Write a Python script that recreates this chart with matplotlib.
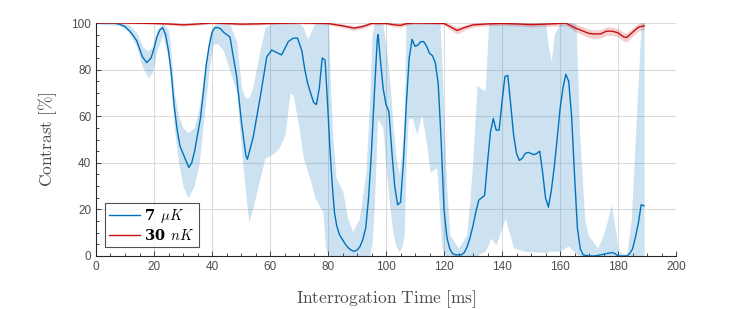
import matplotlib
matplotlib.use('Agg')
import matplotlib.pyplot as plt
from matplotlib.ticker import MultipleLocator

plt.rcParams['mathtext.fontset'] = 'custom'
plt.rcParams['mathtext.rm'] = 'cmr10'
plt.rcParams['mathtext.it'] = 'cmmi10'
plt.rcParams['mathtext.bf'] = 'DejaVu Serif:bold'
plt.rcParams['mathtext.fallback'] = 'cm'

# 7 uK mean contrast
hot_t = [0, 6, 8, 10, 12, 14, 15, 16, 17.5, 19, 20, 21, 22, 23, 24, 25, 26, 27, 28, 29,
         30, 31, 32, 33, 34, 35, 36, 37, 38, 39, 40, 41, 42, 43, 44, 46.2, 48.5, 50.2, 51.7, 52.2,
         54.2, 56.6, 58.9, 60.6, 62, 64, 66.3, 68, 69.5, 71, 72, 73, 74, 75, 76, 77, 78, 79,
         80, 80.7, 81.5, 82.2, 83, 84, 85, 86, 87, 88, 89, 90, 91, 92, 93, 94, 95, 96, 97,
         97.3, 98, 99, 100, 101, 102, 103, 104, 105, 106, 107, 108, 109, 110, 111, 112, 113,
         114, 115, 116, 117, 118, 119, 120, 121, 122, 123, 124, 126, 127, 128, 129, 130, 131,
         132, 133, 134, 135, 136, 137, 138, 139, 140, 141, 142, 143, 144, 145, 146, 147, 148,
         149, 150, 151, 152, 153, 154, 155, 156, 157, 158, 159, 160, 161, 162, 163, 164, 165,
         166, 167, 168, 170, 172, 174, 176, 178, 179, 180, 183, 184, 185, 186, 187, 188, 189]
hot_c = [100, 100, 99.5, 98.5, 96, 92.5, 89, 85.5, 83, 85, 89, 94, 97, 98, 95, 88, 78, 64, 54, 47,
         44, 41, 38, 40, 45, 52, 59, 70, 82, 90, 96, 98, 98, 97.5, 96, 94, 77, 57, 43, 41.5,
         51, 68, 85.5, 88.4, 87.5, 86.3, 92, 93.5, 93.5, 88, 80, 74, 70, 66, 65, 72, 85, 84,
         62, 45, 30, 19, 13, 9, 7, 5, 3.5, 2.5, 2, 2.5, 4, 7, 12, 25, 45, 70, 93,
         95, 85, 72, 65, 62, 45, 30, 22, 23, 40, 65, 85, 93, 90, 90.5, 92, 92,
         90, 87, 86, 83, 74, 50, 20, 8, 3, 1, 0.5, 0.5, 1.5, 4, 8, 13, 19,
         24, 25, 26, 40, 53, 59, 54, 54, 66, 77, 77.5, 65, 52, 44, 41, 42, 44,
         44.5, 44, 43.5, 44, 45, 36, 25, 21, 28, 38, 50, 63, 72, 78, 75, 60, 35,
         12, 3, 0.5, 0, 0, 0.5, 1, 1.5, 1, 0, 0, 1, 3, 8, 14, 22, 21.5]

# 7 uK spread
hot_band_t = [0, 8, 11, 14, 16, 18, 19.5, 21, 23, 25, 25.7, 27, 28.5, 30, 31.7, 33.8, 35.5, 37.2,
              39, 40.5, 42, 44, 46, 48.5, 50.2, 51.5, 52.7, 54, 56, 58.3, 60.6, 63, 65.2, 66.9,
              68, 70, 71.5, 73, 74, 75.5, 77.2, 78.2, 79.2, 80.2, 80.8, 81.6, 82.8, 85.1, 86.8,
              88.5, 90.8, 93.1, 94.3, 95.2, 96, 97.1, 98.9, 100.2, 101.4, 102.5, 103.5, 104.6,
              105.5, 106.3, 106.9, 107.7, 109.2, 110.6, 112.3, 114, 115.2, 117.5, 118.6, 119.2,
              119.8, 120.9, 122, 125, 127.8, 129, 130.1, 131.4, 132.5, 134.2, 135.4, 136, 138,
              141.1, 144, 148, 155, 156, 157, 158, 160, 162.8, 165.5, 166.8, 168.5, 169.7, 173,
              175.4, 177.7, 179.4, 180, 183, 184.6, 186.3, 188, 189]
hot_lo = [99.5, 99, 96.5, 90, 81, 76.5, 79, 88, 95, 85, 75, 55, 40, 30, 25, 30, 39, 59,
          80, 91, 91, 88, 80, 70, 45, 28, 14.5, 20, 30.6, 42, 43.5, 46, 52, 70,
          69, 55, 42, 36, 32, 25, 21, 19, 3, 0, 0, 0, 0, 0, 0,
          0, 0, 0, 0, 5, 22, 59, 55, 35, 20, 9, 4, 2,
          4, 9, 40, 59, 59, 52, 60.6, 48, 36, 38, 16, 5,
          1, 0, 0, 0, 0, 0, 0, 0, 1, 2, 5, 7.7, 4.9,
          16.3, 3.4, 2, 1.5, 2, 2, 2, 2, 4.3, 1, 0, 0, 0, 0,
          0, 0, 0, 0, 0, 0, 0, 0, 0]
hot_hi = [100, 100, 99.5, 96, 90, 88, 90, 97, 100, 97, 90, 70, 60, 55, 53, 55, 63, 78,
          94, 99, 100, 100, 100, 92, 72, 68, 68, 72, 85, 98, 100, 100, 100, 100,
          100, 100, 98, 93, 96, 100, 100, 100, 100, 100, 75, 52, 33.5, 27.8, 16,
          10.6, 16, 36, 66, 95, 100, 100, 100, 88, 73.5, 55, 42, 35,
          45, 59, 100, 100, 100, 100, 100, 100, 100, 100, 100, 85,
          66, 30.6, 9, 3.4, 9, 25, 45, 73.5, 72, 71, 100, 100, 100,
          100, 100, 100, 100, 90, 83.5, 95, 100, 100, 100, 52, 16, 9, 3.4,
          10.6, 22, 9, 2, 0.5, 16, 59, 100, 100]

# 30 nK mean contrast and spread
cold_t = [0, 10, 20, 25, 30, 33, 40, 45, 50, 55, 60, 70, 80, 85, 89, 92, 95, 100, 103, 105,
          107, 110, 120, 122, 124.5, 127, 130, 135, 140, 145, 150, 155, 160, 162, 165, 168,
          170, 172, 174, 176, 178, 180, 182, 183, 185, 187, 189]
cold_c = [100, 100, 99.8, 99.6, 99.2, 99.4, 100, 99.8, 99.5, 99.6, 99.8, 100, 99.8, 98.8, 97.8,
          98.5, 99.8, 99.8, 99.2, 99, 99.7, 100, 99.8, 98.5, 96.8, 98, 99.2, 99.6, 99.8, 99.6,
          99.3, 99.5, 99.8, 100, 98, 96.5, 95.5, 95.3, 95.3, 96.5, 96.5, 95.8, 94, 93.8, 96,
          98.2, 98.8]
cold_err = [0.2, 0.3, 0.3, 0.4, 0.5, 0.5, 0.4, 0.4, 0.5, 0.5, 0.4, 0.4, 0.5, 0.8, 1.0,
            0.9, 0.6, 0.5, 0.8, 0.9, 0.7, 0.5, 0.6, 1.2, 1.5, 1.2, 0.9, 0.8, 0.8, 0.9,
            1.0, 1.0, 1.0, 1.1, 1.5, 1.8, 1.8, 1.8, 1.8, 1.8, 1.8, 1.8, 1.9, 1.9, 1.8,
            1.7, 1.6]

cold_lo = [c - e for c, e in zip(cold_c, cold_err)]
cold_hi = [c + e for c, e in zip(cold_c, cold_err)]

blue = '#0072BD'
red = '#C80F0F'

fig = plt.figure(figsize=(7.47, 3.09), dpi=100)
ax = fig.add_axes([96 / 747, 53 / 309, 580 / 747, 233 / 309])

ax.fill_between(hot_band_t, hot_lo, hot_hi, color=blue, alpha=0.2, lw=0)
ax.fill_between(cold_t, cold_lo, cold_hi, color=red, alpha=0.2, lw=0)
ax.plot(hot_t, hot_c, color=blue, lw=1.0, label=r'$\mathbf{7}\ \,\mu K$')
ax.plot(cold_t, cold_c, color=red, lw=1.0, label=r'$\mathbf{30}\ \,nK$')

ax.set_xlim(0, 200)
ax.set_ylim(0, 100)
ax.xaxis.set_major_locator(MultipleLocator(20))
ax.xaxis.set_minor_locator(MultipleLocator(5))
ax.yaxis.set_major_locator(MultipleLocator(20))
ax.yaxis.set_minor_locator(MultipleLocator(5))
ax.grid(True, which='major', color='#dcdcdc', lw=0.8)
ax.set_axisbelow(True)
for s in ['top', 'right']:
    ax.spines[s].set_visible(False)
for s in ['left', 'bottom']:
    ax.spines[s].set_color('#262626')
    ax.spines[s].set_linewidth(0.8)
ax.tick_params(which='both', direction='in', colors='#262626', labelcolor='#4d4d4d',
               labelsize=8.5, width=0.6)
ax.tick_params(which='major', length=3.5)
ax.tick_params(which='minor', length=2)
for lab in ax.get_xticklabels() + ax.get_yticklabels():
    lab.set_family('Liberation Sans')

ax.set_xlabel(r'$\mathrm{Interrogation\ Time\ [ms]}$', math_fontfamily='cm', fontsize=12.5,
              color='#4d4d4d', labelpad=11)
ax.set_ylabel(r'$\mathrm{Contrast\ [\%]}$', math_fontfamily='cm', fontsize=12.5,
              color='#4d4d4d', labelpad=9)

leg = ax.legend(loc='lower left', fontsize=10.5, frameon=True, fancybox=False,
                edgecolor='#262626', handlelength=2.1, borderaxespad=0.6,
                borderpad=0.3, labelspacing=0.2, handletextpad=0.3)
leg.get_frame().set_linewidth(0.8)

fig.savefig('out.png', dpi=100)
